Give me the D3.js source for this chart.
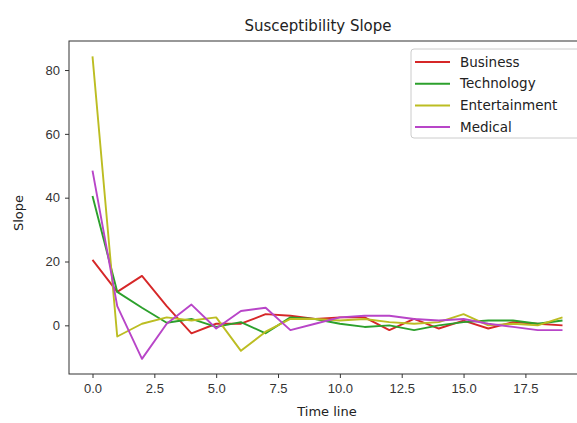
<!DOCTYPE html>
<html>
<head>
<meta charset="utf-8">
<script src="https://cdn.jsdelivr.net/npm/d3@7"></script>
<style>
  body { margin: 0; background: #fff; }
  svg { display: block; font-family: "DejaVu Sans", sans-serif; }
  .domain { stroke: #333; }
  .tick line { stroke: #333; }
  .tick text { fill: #333; font-size: 13px; }
</style>
</head>
<body>
<svg width="577" height="423"></svg>
<script>
// Time steps 0..19
const timeSteps = d3.range(0, 20);

// Slope values per category
const business      = [20.5, 10.5, 15.5, 6, -2.5, 0.5, 0.5, 3.5, 3, 2, 2.5, 2.5, -1.5, 2, -1, 1.5, -1, 1, 0.5, 0];
const technology    = [40.5, 10.5, 5.5, 0.8, 2, -0.5, 1, -2.5, 2.5, 2, 0.5, -0.5, 0, -1.5, 0, 1, 1.5, 1.5, 0.5, 1.5];
const entertainment = [84.3, -3.5, 0.5, 2.5, 1.5, 2.5, -8, -2, 2, 2, 1.5, 2, 1, 0.5, 1, 3.5, 0, 0.5, 0, 2.5];
const medical       = [48.5, 6, -10.5, 0.5, 6.5, -1, 4.5, 5.5, -1.5, 0.5, 2.5, 3, 3, 2, 1.5, 2, 0.5, -0.5, -1.5, -1.5];

const seriesNames  = ["Business", "Technology", "Entertainment", "Medical"];
const seriesValues = [business, technology, entertainment, medical];
const seriesColors = ["#d62728", "#2ca02c", "#bcbd22", "#b845c8"];

const xTicks = [0, 2.5, 5, 7.5, 10, 12.5, 15, 17.5];
const yTicks = [0, 20, 40, 60, 80];

// Plot area
const margin = { top: 41, right: -9, bottom: 49, left: 69 };
const W = 577, H = 423;
const width = W - margin.left - margin.right;
const height = H - margin.top - margin.bottom;

const svg = d3.select("svg");
const g = svg.append("g")
  .attr("transform", `translate(${margin.left},${margin.top})`);

// Scales (matplotlib-like 5% padding)
const x = d3.scaleLinear().domain([-0.95, 19.95]).range([0, width]);
const y = d3.scaleLinear().domain([-15.25, 89.1]).range([height, 0]);

// Lines
const line = d3.line()
  .x((d, i) => x(timeSteps[i]))
  .y(d => y(d));

seriesValues.forEach((vals, k) => {
  g.append("path")
    .datum(vals)
    .attr("fill", "none")
    .attr("stroke", seriesColors[k])
    .attr("stroke-width", 1.9)
    .attr("stroke-linejoin", "round")
    .attr("d", line);
});

// Axes
g.append("g")
  .attr("transform", `translate(0,${height})`)
  .call(d3.axisBottom(x).tickValues(xTicks).tickFormat(d3.format(".1f")).tickSize(4).tickPadding(6))
  .call(a => a.select(".domain").remove());

g.append("g")
  .call(d3.axisLeft(y).tickValues(yTicks).tickSize(4).tickPadding(5))
  .call(a => a.select(".domain").remove());

// Frame
g.append("rect")
  .attr("width", width)
  .attr("height", height)
  .attr("fill", "none")
  .attr("stroke", "#333")
  .attr("stroke-width", 1);

// Title and axis labels
svg.append("text")
  .attr("x", 318)
  .attr("y", 31)
  .attr("text-anchor", "middle")
  .style("font-size", "15px")
  .style("fill", "#222")
  .text("Susceptibility Slope");

svg.append("text")
  .attr("x", 327)
  .attr("y", 416)
  .attr("text-anchor", "middle")
  .style("font-size", "13px")
  .style("fill", "#222")
  .text("Time line");

svg.append("text")
  .attr("transform", "translate(23,213) rotate(-90)")
  .attr("text-anchor", "middle")
  .style("font-size", "13px")
  .style("fill", "#222")
  .text("Slope");

// Legend
const legend = svg.append("g")
  .attr("transform", "translate(411,49)");

legend.append("rect")
  .attr("width", 175)
  .attr("height", 89)
  .attr("rx", 3)
  .attr("fill", "#fff")
  .attr("stroke", "#ccc");

seriesNames.forEach((name, k) => {
  const yy = 13 + k * 21.7;
  legend.append("line")
    .attr("x1", 4).attr("x2", 39)
    .attr("y1", yy).attr("y2", yy)
    .attr("stroke", seriesColors[k])
    .attr("stroke-width", 2);
  legend.append("text")
    .attr("x", 49)
    .attr("y", yy + 4.5)
    .style("font-size", "13.5px")
    .style("fill", "#222")
    .text(name);
});
</script>
</body>
</html>
